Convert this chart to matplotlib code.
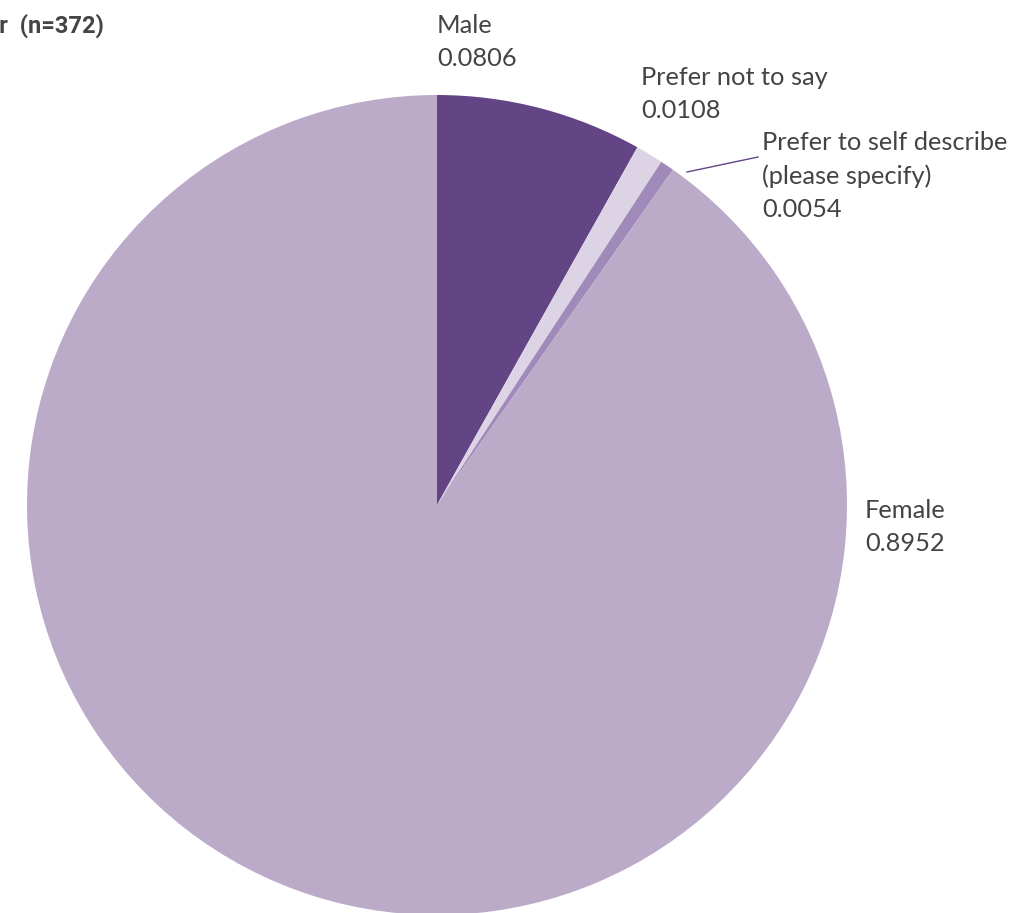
import matplotlib.pyplot as plt

labels = ["Male", "Prefer not to say", "Prefer to self describe\n(please specify)", "Female"]
shares = [0.0806, 0.0108, 0.0054, 0.8952]
colors = ["#634586", "#dcd3e5", "#a08aba", "#bbabc9"]
title = "Gender  (n=372)"

W, H = 1016, 913
cx, cy, r = 437, 505, 410

fig = plt.figure(figsize=(W / 100, H / 100), dpi=100)
ax = fig.add_axes([0, 0, 1, 1])

ax.pie(shares, colors=colors, startangle=90, counterclock=False,
       radius=1, center=(0, 0), wedgeprops=dict(linewidth=0))

# pixel -> data helpers (1 data unit = r pixels)
def px(x):
    return (x - cx) / r

def py(y):
    return (cy - y) / r

ax.set_xlim(px(0), px(W))
ax.set_ylim(py(H), py(0))
ax.axis("off")

lab_font = dict(family=["Lato", "DejaVu Sans"], fontsize=18.3, color="#444444",
                va="center", ha="left", linespacing=1.55)
label_pos = [(437, 42), (641, 94), (762, 176), (865, 527)]
for lab, v, (x, y) in zip(labels, shares, label_pos):
    ax.text(px(x), py(y), f"{lab}\n{v:.4f}", **lab_font)

# leader for the thin slice
ax.plot([px(687), px(758)], [py(172), py(157)], color="#634586", lw=1)

fig.text(104 / W, 1 - 26 / H, title, ha="right", va="center",
         fontsize=17, fontweight="bold", color="#444444",
         family=["Roboto", "DejaVu Sans"])

fig.savefig("out.png", dpi=100)
